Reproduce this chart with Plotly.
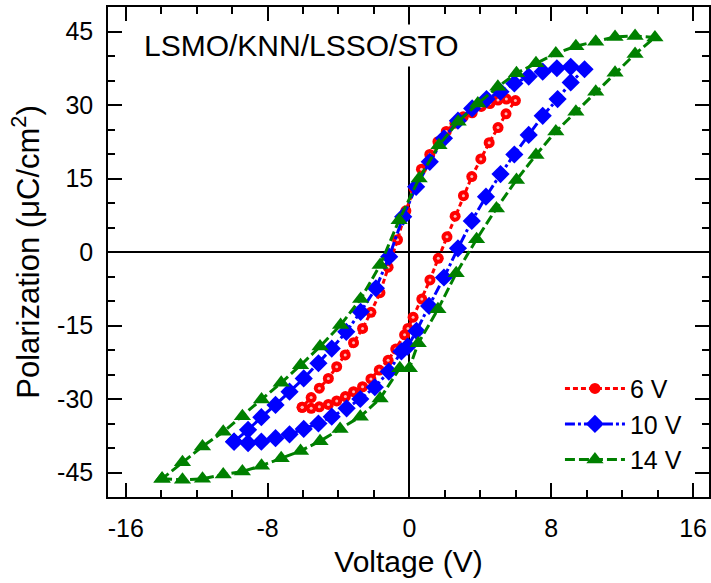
import plotly.graph_objects as go

# ---------------- data ----------------
red_v = [-6.05, -5.54, -5.08, -4.57, -4.10, -3.61, -3.15, -2.64, -2.17, -1.70, -1.20, -0.77, -0.27, -0.08,
         0.21, 0.70, 1.16, 1.63, 2.12, 2.58, 3.05, 3.52, 4.03, 4.50, 5.00, 5.45, 5.98,
         5.47, 5.00, 4.54, 4.05, 3.54, 3.04, 2.57, 2.08, 1.61, 1.15, 0.68, 0.26, -0.20, -0.67, -1.20,
         -1.66, -2.17, -2.64, -3.15, -3.62, -4.10, -4.57, -5.08, -5.54, -6.05]
red_p = [-31.7, -31.9, -31.6, -31.1, -30.4, -29.5, -28.5, -27.5, -25.9, -24.1, -22.1, -19.8, -16.9, -15.6,
         -13.3, -9.6, -5.7, -1.3, 3.1, 7.3, 11.5, 15.4, 19.0, 22.3, 25.4, 28.2, 30.9,
         31.2, 31.0, 30.3, 29.7, 28.4, 27.6, 26.3, 24.6, 22.5, 19.9, 16.9, 13.0, 8.4, 2.5, -3.1,
         -8.3, -12.3, -15.6, -18.5, -21.0, -23.4, -25.8, -27.8, -29.7, -31.7]

blue_v = [-9.89, -9.10, -8.35, -7.55, -6.76, -5.96, -5.13, -4.38, -3.54, -2.77, -1.95, -1.16, -0.45, -0.10,
          0.40, 1.11, 1.95, 2.74, 3.52, 4.32, 5.14, 5.92, 6.73, 7.52, 8.36, 9.10, 9.88,
          9.10, 8.32, 7.52, 6.73, 5.92, 5.14, 4.35, 3.54, 2.74, 1.95, 1.15, 0.38, -0.35, -1.14,
          -1.89, -2.75, -3.56, -4.38, -5.13, -5.96, -6.76, -7.55, -8.35, -9.10, -9.89]
blue_p = [-38.7, -39.0, -38.7, -38.0, -37.2, -36.1, -35.0, -33.6, -31.9, -30.0, -27.6, -24.4, -20.3, -19.3,
          -16.1, -11.0, -5.2, 0.75, 6.35, 11.3, 15.9, 19.9, 23.9, 27.8, 31.2, 34.6, 37.3,
          37.8, 37.5, 36.8, 35.8, 34.4, 32.7, 31.2, 29.3, 26.8, 23.2, 18.4, 13.3, 7.2, -0.95,
          -7.4, -12.2, -16.3, -19.7, -22.7, -25.8, -28.5, -31.2, -33.7, -36.3, -38.7]

green_v = [-13.95, -12.80, -11.67, -10.50, -9.42, -8.34, -7.23, -6.14, -5.04, -3.91, -2.77, -1.65, -0.54, 0.00,
           0.50, 1.61, 2.64, 3.79, 4.91, 6.04, 7.14, 8.26, 9.39, 10.51, 11.60, 12.73, 13.85,
           12.73, 11.60, 10.51, 9.39, 8.26, 7.14, 6.04, 4.99, 3.86, 2.75, 1.67, 0.55, -0.58, -1.65,
           -2.75, -3.88, -5.04, -6.14, -7.23, -8.34, -9.42, -10.50, -11.67, -12.80, -13.95]
green_p = [-46.3, -46.5, -46.3, -45.4, -44.8, -43.6, -42.1, -40.6, -38.6, -36.1, -33.6, -29.9, -23.7, -23.7,
           -18.6, -11.7, -4.35, 2.6, 8.9, 14.7, 19.8, 24.6, 28.6, 32.7, 36.6, 40.4, 43.8,
           44.1, 43.9, 42.9, 42.0, 40.5, 38.5, 36.5, 33.7, 30.3, 26.6, 21.8, 15.0, 6.5, -2.65,
           -9.6, -14.9, -19.3, -23.1, -26.7, -30.1, -33.5, -36.7, -39.7, -42.9, -46.3]

series_names = ["6 V", "10 V", "14 V"]
x_tickvals = [-16, -8, 0, 8, 16]
x_ticktext = ["-16", "-8", "0", "8", "16"]
y_tickvals = [-45, -30, -15, 0, 15, 30, 45]
y_ticktext = ["-45", "-30", "-15", "0", "15", "30", "45"]
sample_label = "LSMO/KNN/LSSO/STO"

FONT = "Liberation Sans, Arial, sans-serif"

fig = go.Figure()
fig.add_trace(go.Scatter(
    x=red_v, y=red_p, name=series_names[0], mode="lines+markers",
    line=dict(color="#ff0000", width=3, dash="5px,3px"),
    marker=dict(symbol="circle", size=11, color="#ff0000", line=dict(width=0)),
))
fig.add_trace(go.Scatter(
    x=red_v, y=red_p, mode="markers", showlegend=False, hoverinfo="skip",
    marker=dict(symbol="circle", size=3, color="#ffb8b8", line=dict(width=0)),
))
fig.add_trace(go.Scatter(
    x=blue_v, y=blue_p, name=series_names[1], mode="lines+markers",
    line=dict(color="#0000ff", width=3, dash="10px,3px,3px,3px"),
    marker=dict(symbol="diamond", size=14, color="#0000ff", line=dict(width=0)),
))
fig.add_trace(go.Scatter(
    x=green_v, y=green_p, name=series_names[2], mode="lines+markers",
    line=dict(color="#008000", width=3, dash="10px,4px"),
    marker=dict(symbol="triangle-up", size=15, color="#008000", line=dict(width=0)),
))

axis_common = dict(
    showline=True, linecolor="black", linewidth=1.5, mirror="ticks",
    ticks="inside", ticklen=14, tickwidth=1.5, tickcolor="black",
    showgrid=False, zeroline=True, zerolinecolor="black", zerolinewidth=1.5,
    tickfont=dict(family=FONT, size=25, color="black"),
    ticklabelstandoff=8,
)

fig.update_layout(
    width=711, height=583,
    margin=dict(l=108, r=0, t=7, b=86),
    paper_bgcolor="white", plot_bgcolor="white",
    font=dict(family=FONT, color="black"),
    xaxis=dict(range=[-17, 16.9], tickvals=x_tickvals, ticktext=x_ticktext,
               minor=dict(dtick=2, tick0=0, ticks="inside", ticklen=7, tickwidth=1.5, tickcolor="black"),
               title=dict(text="Voltage (V)", font=dict(family=FONT, size=30, color="black"), standoff=10),
               **axis_common),
    yaxis=dict(range=[-50, 50], tickvals=y_tickvals, ticktext=y_ticktext,
               minor=dict(dtick=5, tick0=0, ticks="inside", ticklen=7, tickwidth=1.5, tickcolor="black"),
               title=dict(text="Polarization (μC/cm<sup>2</sup>)", font=dict(family=FONT, size=31, color="black"), standoff=8),
               **axis_common),
    legend=dict(x=0.752, y=0.268, xanchor="left", yanchor="top", bgcolor="rgba(0,0,0,0)",
                font=dict(family=FONT, size=25, color="black"), itemwidth=60, tracegroupgap=0),
    annotations=[dict(text=sample_label, xref="paper", yref="paper", x=0.322, y=0.922,
                      xanchor="center", yanchor="middle", showarrow=False, bgcolor="white", borderpad=4,
                      font=dict(family=FONT, size=30, color="black"))],
)

fig.write_html("out.html")
